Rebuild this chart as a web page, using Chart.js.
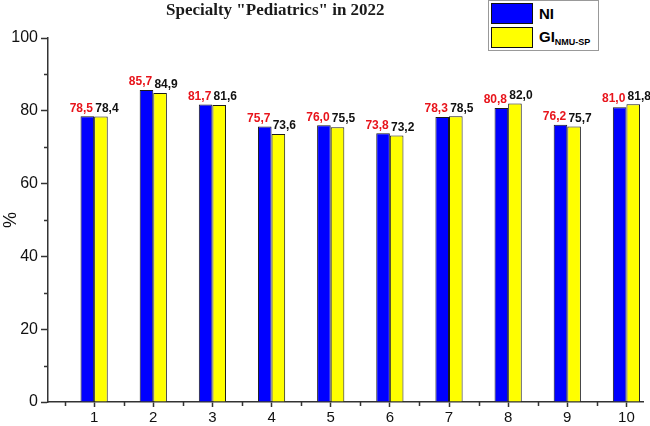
<!DOCTYPE html>
<html lang="en">
<head>
    <meta charset="UTF-8">
    <title>Specialty "Pediatrics" in 2022</title>
    <script src="https://cdn.jsdelivr.net/npm/chart.js"></script>
    <style>
        body { margin: 0; background: #fff; }
        #wrap { position: relative; width: 650px; height: 426px; }
        #title {
            position: absolute; left: 166px; top: 0px;
            font: bold 17px "Liberation Serif", serif; color: #1a1a1a;
            line-height: 20px; white-space: nowrap;
        }
        #legend {
            position: absolute; left: 488px; top: 0px; width: 109px; height: 49px;
            border: 1px solid #999; background: #fff;
            font: bold 15px "Liberation Sans", Arial, sans-serif;
        }
        #legend .row { position: absolute; left: 2px; height: 21px; display: flex; align-items: center; }
        #legend .sw { width: 40px; height: 19px; border: 1px solid #111; margin-right: 6px; }
        #legend sub { font-size: 9px; vertical-align: -3px; }
    </style>
</head>
<body>
<div id="wrap">
    <canvas id="chart" width="650" height="426"></canvas>
    <div id="title">Specialty "Pediatrics" in 2022</div>
    <div id="legend"></div>
</div>

<script>
    // data
    let categories = [1, 2, 3, 4, 5, 6, 7, 8, 9, 10];
    let niValues = [78.5, 85.7, 81.7, 75.7, 76.0, 73.8, 78.3, 80.8, 76.2, 81.0];
    let giValues = [78.4, 84.9, 81.6, 73.6, 75.5, 73.2, 78.5, 82.0, 75.7, 81.8];
    let yTicks = [0, 20, 40, 60, 80, 100];
    let yMinor = [10, 30, 50, 70, 90];
    let xMinor = [0.5, 1.5, 2.5, 3.5, 4.5, 5.5, 6.5, 7.5, 8.5, 9.5];

    let axisColor = "#333";
    let ctx = document.getElementById("chart").getContext("2d");

    // value labels above bars, decimal comma
    let valueLabels = {
        id: "valueLabels",
        afterDatasetsDraw(chart) {
            let c = chart.ctx;
            c.save();
            c.font = "bold 12px 'Liberation Sans', Arial, sans-serif";
            c.textAlign = "center";
            c.textBaseline = "bottom";
            chart.data.datasets.forEach((ds, i) => {
                let meta = chart.getDatasetMeta(i);
                c.fillStyle = ds.labelColor;
                meta.data.forEach((bar, j) => {
                    let txt = ds.data[j].y.toFixed(1).replace(".", ",");
                    c.fillText(txt, bar.x + (i === 0 ? -6 : 6), bar.y - 2);
                });
            });
            c.restore();
        }
    };

    // short minor ticks on both axes
    let minorTicks = {
        id: "minorTicks",
        afterDraw(chart) {
            let c = chart.ctx, x = chart.scales.x, y = chart.scales.y;
            c.save();
            c.strokeStyle = axisColor;
            c.lineWidth = 1.5;
            c.beginPath();
            yMinor.forEach(v => {
                let py = Math.round(y.getPixelForValue(v)) + 0.5;
                c.moveTo(x.left - 4, py);
                c.lineTo(x.left, py);
            });
            xMinor.forEach(v => {
                let px = Math.round(x.getPixelForValue(v)) + 0.5;
                c.moveTo(px, y.bottom);
                c.lineTo(px, y.bottom + 4);
            });
            c.stroke();
            c.restore();
        }
    };

    let chart = new Chart(ctx, {
        type: "bar",
        data: {
            datasets: [{
                label: "NI",
                data: categories.map((c, i) => ({ x: c, y: niValues[i] })),
                backgroundColor: "#0000ff",
                borderColor: "#1a1a1a",
                borderWidth: 1,
                labelColor: "#e8141b"
            }, {
                label: "GI",
                sub: "NMU-SP",
                data: categories.map((c, i) => ({ x: c, y: giValues[i] })),
                backgroundColor: "#ffff00",
                borderColor: "#1a1a1a",
                borderWidth: 1,
                labelColor: "#111"
            }]
        },
        options: {
            responsive: false,
            animation: false,
            categoryPercentage: 0.46,
            barPercentage: 1,
            layout: { padding: { top: 38, right: 7, left: 0, bottom: 0 } },
            plugins: {
                legend: { display: false },
                title: { display: false },
                tooltip: { enabled: false }
            },
            scales: {
                x: {
                    type: "linear",
                    offset: false,
                    min: 0.22,
                    max: 10.28,
                    afterBuildTicks(scale) {
                        scale.ticks = categories.map(v => ({ value: v }));
                    },
                    afterFit(scale) { scale.height = 24; },
                    ticks: {
                        color: "#111",
                        padding: 2,
                        font: { family: "'Liberation Sans', Arial, sans-serif", size: 15 },
                        callback: v => String(v)
                    },
                    grid: { offset: false, drawOnChartArea: false, tickLength: 5, tickColor: axisColor, tickWidth: 1.5 },
                    border: { color: axisColor, width: 1.5 }
                },
                y: {
                    min: 0,
                    max: 100,
                    afterBuildTicks(scale) {
                        scale.ticks = yTicks.map(v => ({ value: v }));
                    },
                    afterFit(scale) { scale.width = 48; },
                    ticks: {
                        color: "#111",
                        padding: 3,
                        font: { family: "'Liberation Sans', Arial, sans-serif", size: 16 }
                    },
                    title: {
                        display: true,
                        text: "%",
                        color: "#111",
                        padding: 0,
                        font: { family: "'Liberation Sans', Arial, sans-serif", size: 18 }
                    },
                    grid: { drawOnChartArea: false, tickLength: 7, tickColor: axisColor, tickWidth: 1.5 },
                    border: { color: axisColor, width: 1.5 }
                }
            }
        },
        plugins: [valueLabels, minorTicks]
    });

    // legend built from the datasets (second label has a subscript)
    let legend = document.getElementById("legend");
    chart.data.datasets.forEach((ds, i) => {
        let row = document.createElement("div");
        row.className = "row";
        row.style.top = (2 + i * 24) + "px";
        let sw = document.createElement("span");
        sw.className = "sw";
        sw.style.background = ds.backgroundColor;
        row.appendChild(sw);
        let txt = document.createElement("span");
        txt.textContent = ds.label;
        if (ds.sub) {
            let s = document.createElement("sub");
            s.textContent = ds.sub;
            txt.appendChild(s);
        }
        row.appendChild(txt);
        legend.appendChild(row);
    });
</script>
</body>
</html>
